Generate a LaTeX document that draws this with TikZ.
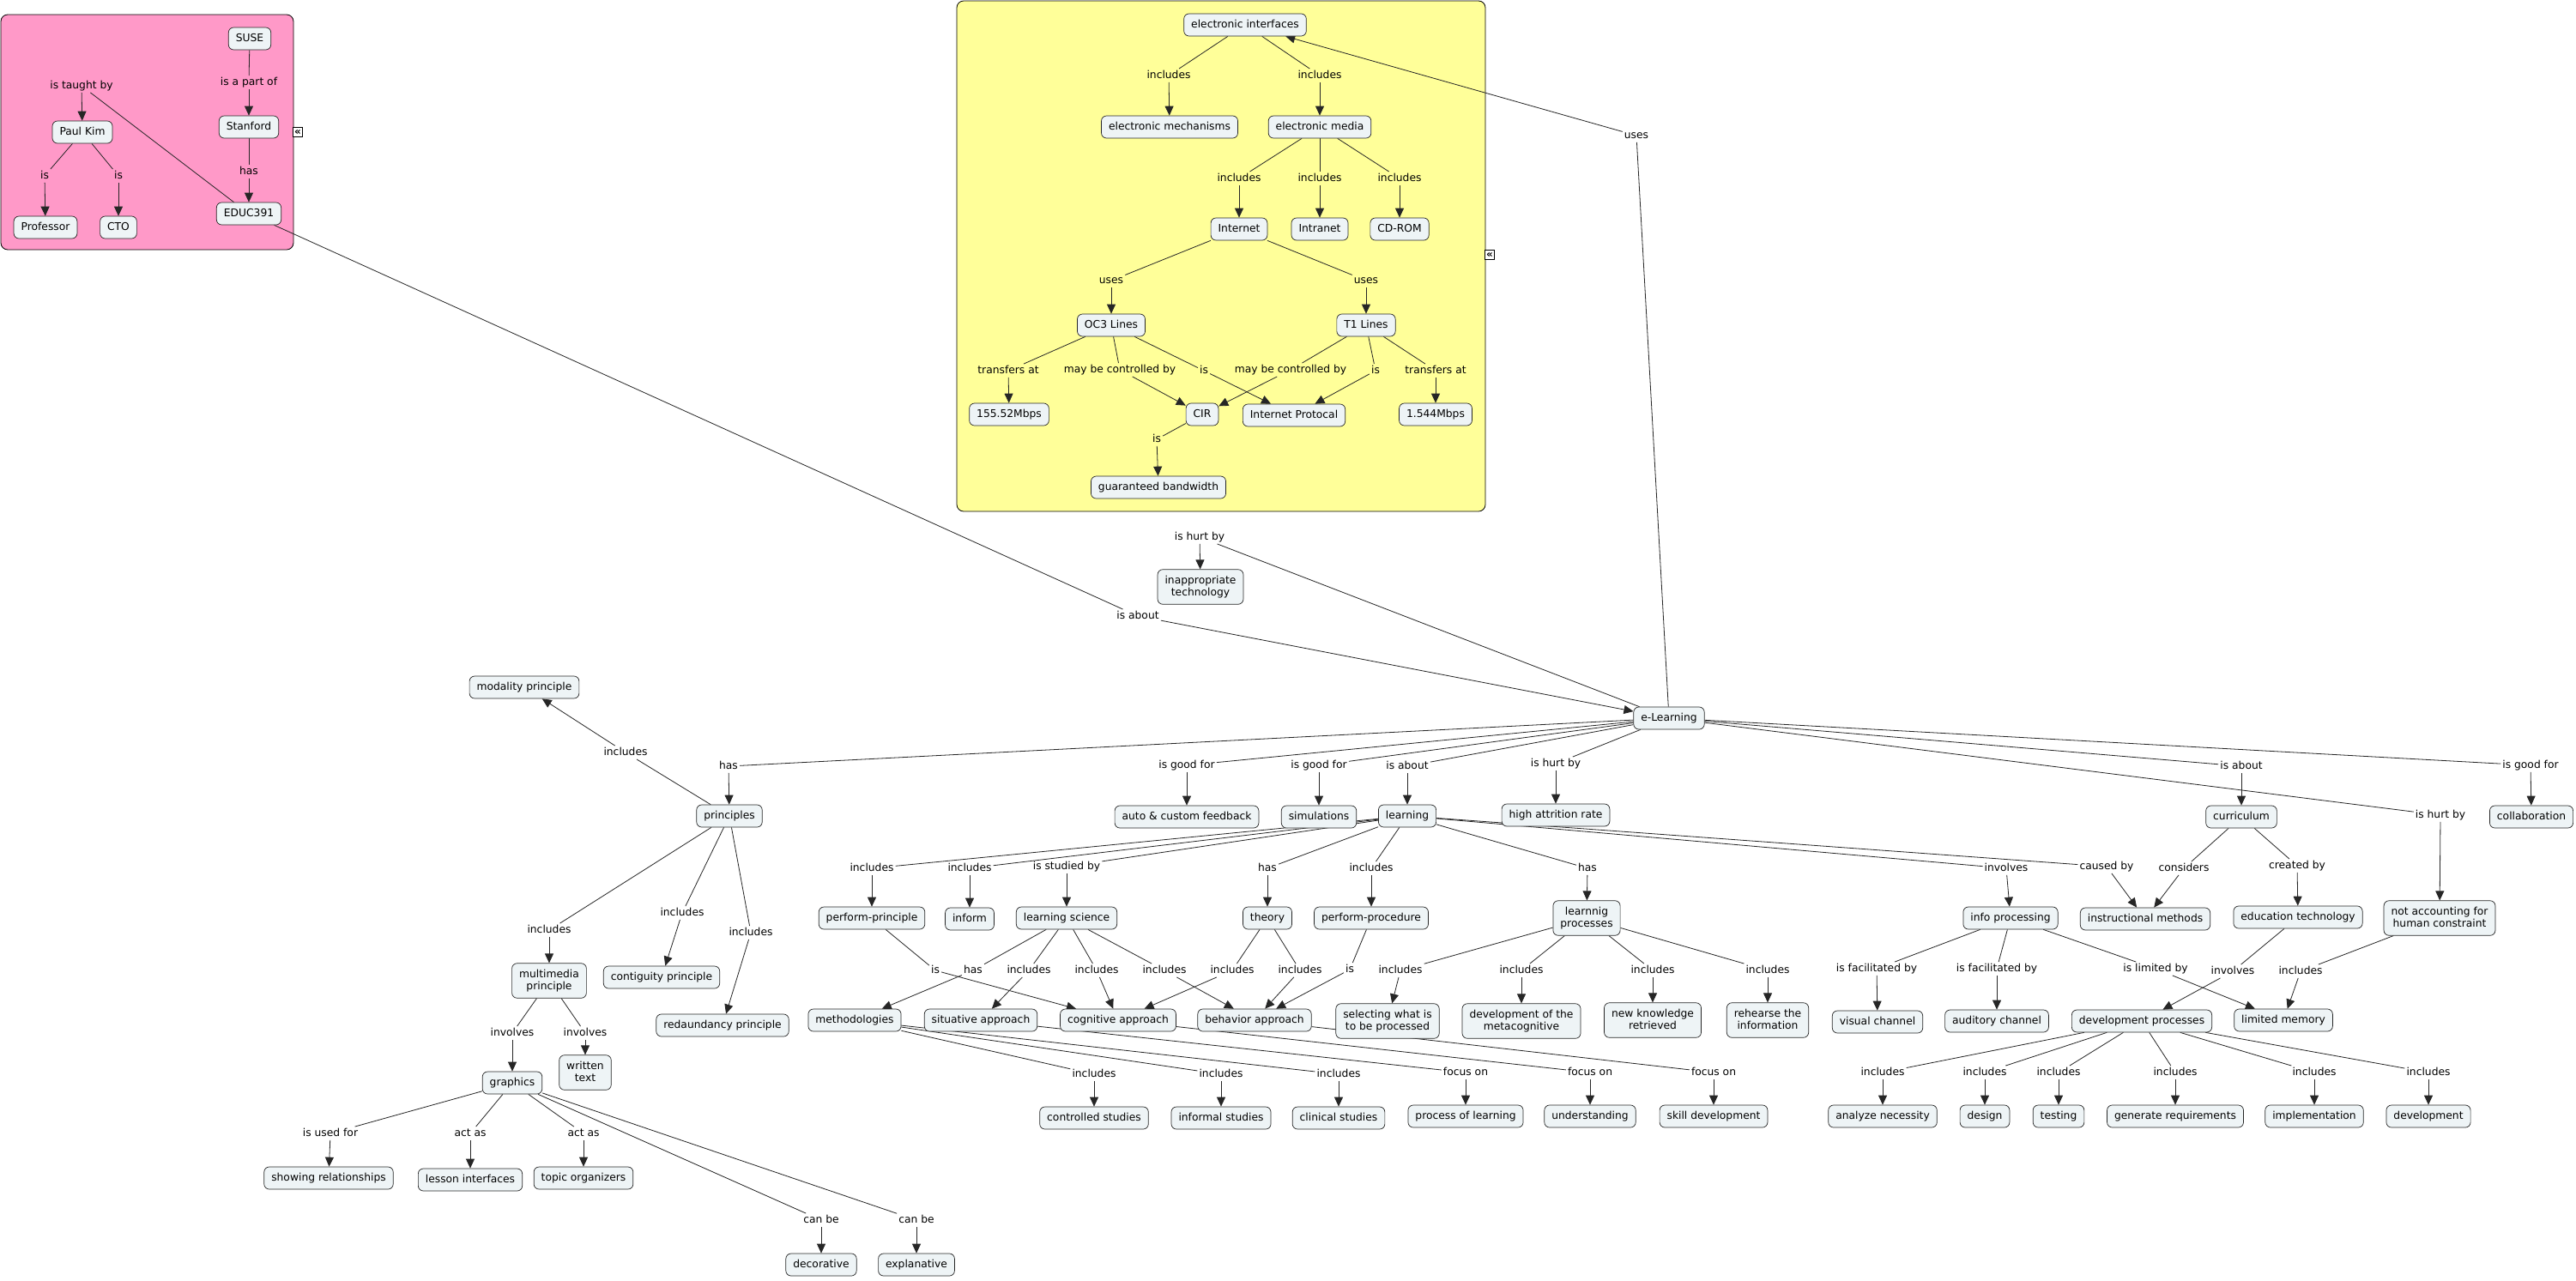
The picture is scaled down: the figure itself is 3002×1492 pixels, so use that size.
\documentclass[tikz,border=0pt]{standalone}
\usepackage{fontspec}
\setmainfont{DejaVu Sans}
\usepackage{tikz}
\usetikzlibrary{arrows.meta}
\definecolor{cfill}{RGB}{238,244,246}
\definecolor{pinkbg}{RGB}{255,153,200}
\definecolor{yellowbg}{RGB}{255,255,153}
\pgfdeclarelayer{bg}
\pgfdeclarelayer{links}
\pgfsetlayers{bg,links,main}

\begin{document}
\begin{tikzpicture}[x=1pt, y=-1pt,
  every node/.style={font=\fontsize{12.3}{14.5}\selectfont, text height=10pt, text depth=3.5pt, align=center},
  concept/.style={draw=black!85, fill=cfill, rounded corners=6pt, inner xsep=8.5pt, inner ysep=6.25pt, line width=0.7pt},
  twoline/.style={text height=24.5pt},
  phrase/.style={inner xsep=2pt, inner ysep=1pt},
  lnk/.style={draw=black!85, line width=0.8pt},
  arr/.style={-{Triangle[length=11pt,width=10pt]}},
  grip/.style={draw, fill=white, line width=0.8pt, inner sep=0pt, minimum size=11pt, text height=, text depth=, font=\bfseries\fontsize{12}{12}\selectfont}]
  \useasboundingbox (0,0) rectangle (3002,1492);
  \begin{pgfonlayer}{bg}
    \fill[white] (0,0) rectangle (3002,1492);
    \draw[fill=pinkbg, rounded corners=8pt, line width=0.8pt] (1,17) rectangle (342,291);
    \draw[fill=yellowbg, rounded corners=8pt, line width=0.8pt] (1115,1) rectangle (1731,596);
  \end{pgfonlayer}
  \node[grip] (pinkgrip) at (347,154) {«};
  \node[grip] (yellowgrip) at (1736,297) {«};

  \node[concept] (suse) at (291,45) {SUSE};
  \node[phrase] (p1) at (290,96) {is a part of};
  \node[concept] (stanford) at (290,148) {Stanford};
  \node[phrase] (p2) at (290,200) {has};
  \node[concept] (educ) at (290,249) {EDUC391};
  \node[phrase] (p3) at (95,100) {is taught by};
  \node[concept] (kim) at (96,154) {Paul Kim};
  \node[phrase] (p4) at (52,205) {is};
  \node[phrase] (p5) at (138,205) {is};
  \node[concept] (prof) at (53,265) {Professor};
  \node[concept] (cto) at (138,265) {CTO};

  \node[concept] (einter) at (1451,29) {electronic interfaces};
  \node[phrase] (y1) at (1362,88) {includes};
  \node[phrase] (y2) at (1538,88) {includes};
  \node[concept] (emech) at (1363,148) {electronic mechanisms};
  \node[concept] (emedia) at (1538,148) {electronic media};
  \node[phrase] (y3) at (1444,208) {includes};
  \node[phrase] (y4) at (1538,208) {includes};
  \node[phrase] (y5) at (1631,208) {includes};
  \node[concept] (inet) at (1444,267) {Internet};
  \node[concept] (intra) at (1538,267) {Intranet};
  \node[concept] (cdrom) at (1631,267) {CD-ROM};
  \node[phrase] (y6) at (1295,327) {uses};
  \node[phrase] (y7) at (1592,327) {uses};
  \node[concept] (oc3) at (1295,379) {OC3 Lines};
  \node[concept] (t1) at (1592,379) {T1 Lines};
  \node[phrase] (y8) at (1175,432) {transfers at};
  \node[phrase] (y9) at (1305,431) {may be controlled by};
  \node[phrase] (y10) at (1403,432) {is};
  \node[phrase] (y11) at (1504,431) {may be controlled by};
  \node[phrase] (y12) at (1603,432) {is};
  \node[phrase] (y13) at (1673,432) {transfers at};
  \node[concept] (oc3rate) at (1176,483) {155.52Mbps};
  \node[concept] (cir) at (1401,483) {CIR};
  \node[concept] (iprot) at (1508,484) {Internet Protocal};
  \node[concept] (t1rate) at (1673,483) {1.544Mbps};
  \node[phrase] (y14) at (1348,512) {is};
  \node[concept] (bandw) at (1350,568) {guaranteed bandwidth};

  \node[concept] (elearn) at (1945,837) {e-Learning};
  \node[phrase] (m1) at (1907,158) {uses};
  \node[phrase] (m2) at (1398,626) {is hurt by};
  \node[concept, twoline] (inapp) at (1399,684) {inappropriate\\technology};
  \node[phrase] (m3) at (1326,718) {is about};
  \node[phrase] (m4) at (849,893) {has};

  \node[concept] (princ) at (850,951) {principles};
  \node[phrase] (l1) at (729,877) {includes};
  \node[concept] (modal) at (611,801) {modality principle};
  \node[phrase] (l2) at (640,1084) {includes};
  \node[concept, twoline] (multi) at (640,1143) {multimedia\\principle};
  \node[phrase] (l3) at (795,1064) {includes};
  \node[concept] (contig) at (771,1139) {contiguity principle};
  \node[phrase] (l4) at (875,1087) {includes};
  \node[concept] (redund) at (842,1195) {redaundancy principle};
  \node[phrase] (l5) at (597,1204) {involves};
  \node[phrase] (l6) at (682,1204) {involves};
  \node[concept] (graph) at (597,1262) {graphics};
  \node[concept, twoline] (written) at (682,1250) {written\\text};
  \node[phrase] (l7) at (385,1321) {is used for};
  \node[phrase] (l8) at (548,1321) {act as};
  \node[phrase] (l9) at (680,1321) {act as};
  \node[concept] (showrel) at (383,1373) {showing relationships};
  \node[concept] (lessonif) at (548,1375) {lesson interfaces};
  \node[concept] (topicorg) at (680,1373) {topic organizers};
  \node[phrase] (l10) at (957,1422) {can be};
  \node[phrase] (l11) at (1068,1422) {can be};
  \node[concept] (decor) at (957,1474) {decorative};
  \node[concept] (explan) at (1068,1474) {explanative};

  \node[phrase] (c1) at (1383,892) {is good for};
  \node[concept] (feedb) at (1383,952) {auto \& custom feedback};
  \node[phrase] (c2) at (1537,892) {is good for};
  \node[concept] (simul) at (1537,952) {simulations};
  \node[phrase] (c3) at (1640,893) {is about};
  \node[concept] (learn) at (1640,951) {learning};
  \node[phrase] (c4) at (1813,890) {is hurt by};
  \node[concept] (attr) at (1813,950) {high attrition rate};
  \node[phrase] (c5) at (1016,1012) {includes};
  \node[concept] (pprinc) at (1016,1070) {perform-principle};
  \node[phrase] (c6) at (1130,1012) {includes};
  \node[concept] (inform) at (1130,1071) {inform};
  \node[phrase] (c7) at (1243,1010) {is studied by};
  \node[concept] (lsci) at (1243,1070) {learning science};
  \node[phrase] (c8) at (1477,1012) {has};
  \node[concept] (theory) at (1477,1070) {theory};
  \node[phrase] (c9) at (1598,1012) {includes};
  \node[concept] (pproc) at (1598,1070) {perform-procedure};
  \node[phrase] (c10) at (1850,1012) {has};
  \node[concept, twoline] (lproc) at (1849,1070) {learnnig\\processes};
  \node[phrase] (c11) at (2338,1012) {involves};
  \node[concept] (info) at (2343,1070) {info processing};
  \node[phrase] (c12) at (2455,1010) {caused by};
  \node[concept] (instr) at (2500,1071) {instructional methods};

  \node[phrase] (d1) at (1090,1131) {is};
  \node[phrase] (d2) at (1134,1131) {has};
  \node[phrase] (d3) at (1199,1131) {includes};
  \node[phrase] (d4) at (1278,1131) {includes};
  \node[phrase] (d5) at (1357,1131) {includes};
  \node[phrase] (d6) at (1436,1131) {includes};
  \node[phrase] (d7) at (1515,1131) {includes};
  \node[phrase] (d8) at (1573,1130) {is};
  \node[phrase] (d9) at (1632,1131) {includes};
  \node[phrase] (d10) at (1773,1131) {includes};
  \node[phrase] (d11) at (1926,1131) {includes};
  \node[phrase] (d12) at (2060,1131) {includes};
  \node[concept] (method) at (996,1189) {methodologies};
  \node[concept] (situ) at (1143,1189) {situative approach};
  \node[concept] (cogn) at (1303,1189) {cognitive approach};
  \node[concept] (behav) at (1462,1189) {behavior approach};
  \node[concept, twoline] (select) at (1617,1190) {selecting what is\\to be processed};
  \node[concept, twoline] (metacog) at (1773,1190) {development of the\\metacognitive};
  \node[concept, twoline] (newk) at (1926,1189) {new knowledge\\retrieved};
  \node[concept, twoline] (rehear) at (2060,1189) {rehearse the\\information};
  \node[phrase] (e1) at (1275,1252) {includes};
  \node[phrase] (e2) at (1423,1252) {includes};
  \node[phrase] (e3) at (1560,1252) {includes};
  \node[concept] (ctrl) at (1275,1303) {controlled studies};
  \node[concept] (infst) at (1423,1303) {informal studies};
  \node[concept] (clin) at (1560,1303) {clinical studies};
  \node[phrase] (e4) at (1708,1250) {focus on};
  \node[phrase] (e5) at (1853,1250) {focus on};
  \node[phrase] (e6) at (1997,1250) {focus on};
  \node[concept] (procl) at (1708,1301) {process of learning};
  \node[concept] (under) at (1853,1301) {understanding};
  \node[concept] (skill) at (1997,1301) {skill development};

  \node[phrase] (r1) at (2612,893) {is about};
  \node[concept] (curr) at (2612,952) {curriculum};
  \node[phrase] (r2) at (2949,892) {is good for};
  \node[concept] (collab) at (2950,952) {collaboration};
  \node[phrase] (r3) at (2844,950) {is hurt by};
  \node[concept, twoline] (notacc) at (2843,1070) {not accounting for\\human constraint};
  \node[phrase] (r4) at (2545,1012) {considers};
  \node[phrase] (r5) at (2677,1009) {created by};
  \node[concept] (edtech) at (2678,1069) {education technology};
  \node[phrase] (r6) at (2187,1129) {is facilitated by};
  \node[phrase] (r7) at (2327,1129) {is facilitated by};
  \node[phrase] (r8) at (2512,1129) {is limited by};
  \node[phrase] (r9) at (2602,1132) {involves};
  \node[phrase] (r10) at (2681,1132) {includes};
  \node[concept] (visual) at (2188,1191) {visual channel};
  \node[concept] (audit) at (2327,1190) {auditory channel};
  \node[concept] (devp) at (2496,1190) {development processes};
  \node[concept] (limm) at (2661,1189) {limited memory};
  \node[phrase] (b1) at (2194,1250) {includes};
  \node[phrase] (b2) at (2313,1250) {includes};
  \node[phrase] (b3) at (2399,1250) {includes};
  \node[phrase] (b4) at (2535,1250) {includes};
  \node[phrase] (b5) at (2697,1250) {includes};
  \node[phrase] (b6) at (2830,1250) {includes};
  \node[concept] (analyz) at (2194,1301) {analyze necessity};
  \node[concept] (design) at (2313,1301) {design};
  \node[concept] (testing) at (2399,1301) {testing};
  \node[concept] (genreq) at (2535,1301) {generate requirements};
  \node[concept] (implem) at (2697,1301) {implementation};
  \node[concept] (devel) at (2830,1301) {development};

  \begin{pgfonlayer}{links}
  \begin{scope}[lnk]
    \draw (suse) -- (p1) edge[arr] (stanford);
    \draw (stanford) -- (p2) edge[arr] (educ);
    \draw (educ) -- (p3) edge[arr] (kim);
    \draw (kim) -- (p4) edge[arr] (prof);
    \draw (kim) -- (p5) edge[arr] (cto);
    \draw (educ) -- (m3) edge[arr] (elearn);

    \draw (einter) -- (y1) edge[arr] (emech);
    \draw (einter) -- (y2) edge[arr] (emedia);
    \draw (emedia) -- (y3) edge[arr] (inet);
    \draw (emedia) -- (y4) edge[arr] (intra);
    \draw (emedia) -- (y5) edge[arr] (cdrom);
    \draw (inet) -- (y6) edge[arr] (oc3);
    \draw (inet) -- (y7) edge[arr] (t1);
    \draw (oc3) -- (y8) edge[arr] (oc3rate);
    \draw (oc3) -- (y9) edge[arr] (cir);
    \draw (oc3) -- (y10) edge[arr] (iprot);
    \draw (t1) -- (y11) edge[arr] (cir);
    \draw (t1) -- (y12) edge[arr] (iprot);
    \draw (t1) -- (y13) edge[arr] (t1rate);
    \draw (cir) -- (y14) edge[arr] (bandw);

    \draw (elearn) -- (m1) edge[arr] (einter);
    \draw (elearn) -- (m2) edge[arr] (inapp);
    \draw (elearn) -- (m4) edge[arr] (princ);
    \draw (princ) -- (l1) edge[arr] (modal);
    \draw (princ) -- (l2) edge[arr] (multi);
    \draw (princ) -- (l3) edge[arr] (contig);
    \draw (princ) -- (l4) edge[arr] (redund);
    \draw (multi) -- (l5) edge[arr] (graph);
    \draw (multi) -- (l6) edge[arr] (written);
    \draw (graph) -- (l7) edge[arr] (showrel);
    \draw (graph) -- (l8) edge[arr] (lessonif);
    \draw (graph) -- (l9) edge[arr] (topicorg);
    \draw (graph) -- (l10) edge[arr] (decor);
    \draw (graph) -- (l11) edge[arr] (explan);

    \draw (elearn) -- (c1) edge[arr] (feedb);
    \draw (elearn) -- (c2) edge[arr] (simul);
    \draw (elearn) -- (c3) edge[arr] (learn);
    \draw (elearn) -- (c4) edge[arr] (attr);
    \draw (learn) -- (c5) edge[arr] (pprinc);
    \draw (learn) -- (c6) edge[arr] (inform);
    \draw (learn) -- (c7) edge[arr] (lsci);
    \draw (learn) -- (c8) edge[arr] (theory);
    \draw (learn) -- (c9) edge[arr] (pproc);
    \draw (learn) -- (c10) edge[arr] (lproc);
    \draw (learn) -- (c11) edge[arr] (info);
    \draw (learn) -- (c12) edge[arr] (instr);
    \draw (pprinc) -- (d1) edge[arr] (cogn);
    \draw (lsci) -- (d2) edge[arr] (method);
    \draw (lsci) -- (d3) edge[arr] (situ);
    \draw (lsci) -- (d4) edge[arr] (cogn);
    \draw (lsci) -- (d5) edge[arr] (behav);
    \draw (theory) -- (d6) edge[arr] (cogn);
    \draw (theory) -- (d7) edge[arr] (behav);
    \draw (pproc) -- (d8) edge[arr] (behav);
    \draw (lproc) -- (d9) edge[arr] (select);
    \draw (lproc) -- (d10) edge[arr] (metacog);
    \draw (lproc) -- (d11) edge[arr] (newk);
    \draw (lproc) -- (d12) edge[arr] (rehear);
    \draw (method) -- (e1) edge[arr] (ctrl);
    \draw (method) -- (e2) edge[arr] (infst);
    \draw (method) -- (e3) edge[arr] (clin);
    \draw (situ) -- (e4) edge[arr] (procl);
    \draw (cogn) -- (e5) edge[arr] (under);
    \draw (behav) -- (e6) edge[arr] (skill);

    \draw (elearn) -- (r1) edge[arr] (curr);
    \draw (elearn) -- (r2) edge[arr] (collab);
    \draw (elearn) -- (r3) edge[arr] (notacc);
    \draw (curr) -- (r4) edge[arr] (instr);
    \draw (curr) -- (r5) edge[arr] (edtech);
    \draw (info) -- (r6) edge[arr] (visual);
    \draw (info) -- (r7) edge[arr] (audit);
    \draw (info) -- (r8) edge[arr] (limm);
    \draw (edtech) -- (r9) edge[arr] (devp);
    \draw (notacc) -- (r10) edge[arr] (limm);
    \draw (devp) -- (b1) edge[arr] (analyz);
    \draw (devp) -- (b2) edge[arr] (design);
    \draw (devp) -- (b3) edge[arr] (testing);
    \draw (devp) -- (b4) edge[arr] (genreq);
    \draw (devp) -- (b5) edge[arr] (implem);
    \draw (devp) -- (b6) edge[arr] (devel);
  \end{scope}
  \end{pgfonlayer}
\end{tikzpicture}
\end{document}
